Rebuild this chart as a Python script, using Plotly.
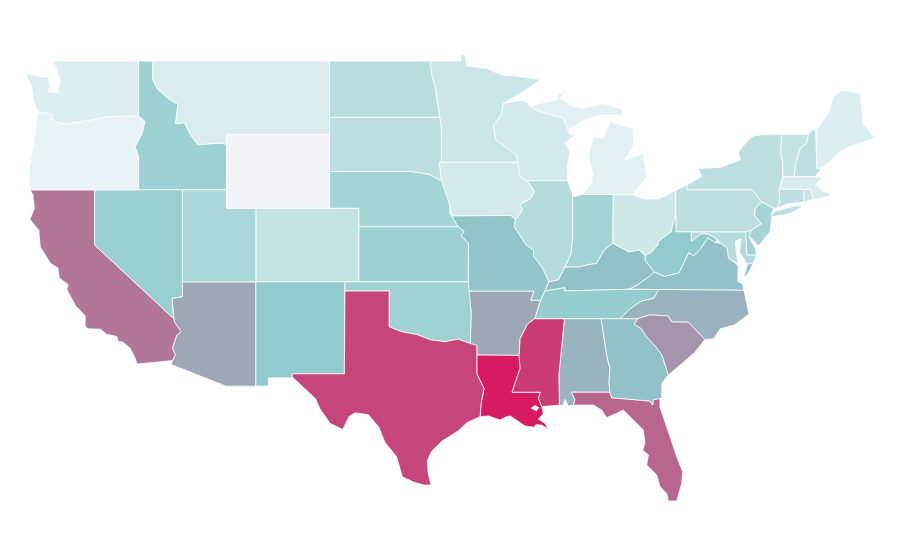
import plotly.graph_objects as go
from plotly.colors import sample_colorscale

# no topojson without network, so the state outlines are kept here as lon/lat rings
WA = [(-124.73,48.33),(-123.71,48.15),(-123.15,48.15),(-123.03,47.61),(-123.19,47.33),(-122.47,47.28),(-122.35,47.97),(-122.58,48.51),(-122.81,49.0),(-117.03,49.0),(-117.03,46.03),(-119.07,45.98),(-120.2,45.8),(-122.0,45.58),(-122.8,45.7),(-122.92,46.12),(-123.87,46.25),(-124.16,46.88),(-124.28,47.6)]
OR = [(-123.87,46.25),(-122.92,46.12),(-122.8,45.7),(-122.0,45.58),(-120.2,45.8),(-119.07,45.98),(-117.03,46.03),(-116.58,45.7),(-116.85,44.95),(-117.26,44.35),(-117.03,43.8),(-117.03,42.0),(-124.39,42.0),(-124.5,43.08),(-124.16,44.35),(-124.05,45.25)]
CA = [(-124.39,42.0),(-120.0,42.0),(-120.0,39.0),(-114.63,35.0),(-114.57,34.8),(-114.14,34.3),(-114.43,34.1),(-114.72,33.4),(-114.52,33.03),(-114.72,32.72),(-117.12,32.53),(-117.25,32.85),(-117.6,33.4),(-118.1,33.73),(-118.4,33.75),(-118.5,34.03),(-119.2,34.15),(-119.6,34.42),(-120.47,34.45),(-120.65,34.6),(-120.65,35.15),(-121.3,35.7),(-121.9,36.6),(-121.8,36.85),(-122.4,37.2),(-122.5,37.75),(-123.0,38.0),(-123.7,38.9),(-123.8,39.8),(-124.4,40.4),(-124.1,41.0),(-124.2,41.75)]
NV = [(-120.0,42.0),(-114.04,42.0),(-114.04,36.2),(-114.75,36.1),(-114.63,35.0),(-120.0,39.0)]
ID = [(-117.03,49.0),(-116.05,49.0),(-116.05,48.0),(-115.7,47.45),(-114.9,46.9),(-114.35,46.65),(-114.5,45.6),(-113.9,45.65),(-113.45,44.95),(-113.0,44.45),(-111.5,44.55),(-111.05,44.48),(-111.05,42.0),(-117.03,42.0),(-117.03,43.8),(-117.26,44.35),(-116.85,44.95),(-116.58,45.7),(-117.03,46.03)]
MT = [(-116.05,49.0),(-104.05,49.0),(-104.05,45.0),(-111.05,45.0),(-111.05,44.48),(-111.5,44.55),(-113.0,44.45),(-113.45,44.95),(-113.9,45.65),(-114.5,45.6),(-114.35,46.65),(-114.9,46.9),(-115.7,47.45),(-116.05,48.0)]
WY = [(-111.05,45.0),(-104.05,45.0),(-104.05,41.0),(-111.05,41.0)]
UT = [(-114.04,42.0),(-111.05,42.0),(-111.05,41.0),(-109.05,41.0),(-109.05,37.0),(-114.04,37.0)]
CO = [(-109.05,41.0),(-102.05,41.0),(-102.05,37.0),(-109.05,37.0)]
AZ = [(-114.04,37.0),(-109.05,37.0),(-109.05,31.33),(-111.07,31.33),(-114.8,32.5),(-114.72,32.72),(-114.52,33.03),(-114.72,33.4),(-114.43,34.1),(-114.14,34.3),(-114.57,34.8),(-114.63,35.0),(-114.75,36.1),(-114.04,36.2)]
NM = [(-109.05,37.0),(-103.0,37.0),(-103.04,32.0),(-106.62,32.0),(-106.53,31.78),(-108.2,31.78),(-108.2,31.33),(-109.05,31.33)]
ND = [(-104.05,49.0),(-97.23,49.0),(-97.1,48.2),(-96.85,47.5),(-96.75,46.9),(-96.56,45.94),(-104.05,45.94)]
SD = [(-104.05,45.94),(-96.56,45.94),(-96.45,45.3),(-96.45,43.5),(-96.6,43.5),(-96.45,42.5),(-97.3,42.85),(-98.5,43.0),(-104.05,43.0)]
NE = [(-104.05,43.0),(-98.5,43.0),(-97.3,42.85),(-96.45,42.5),(-96.1,41.7),(-95.9,41.2),(-95.85,40.7),(-95.31,40.0),(-102.05,40.0),(-102.05,41.0),(-104.05,41.0)]
KS = [(-102.05,40.0),(-95.31,40.0),(-94.9,39.75),(-95.1,39.5),(-94.61,39.1),(-94.62,37.0),(-102.05,37.0)]
OK = [(-103.0,37.0),(-94.62,37.0),(-94.43,35.4),(-94.48,33.64),(-95.3,33.88),(-96.2,33.75),(-97.2,33.85),(-98.1,34.13),(-99.2,34.3),(-100.0,34.56),(-100.0,36.5),(-103.0,36.5)]
TX = [(-106.62,32.0),(-103.04,32.0),(-103.0,36.5),(-100.0,36.5),(-100.0,34.56),(-99.2,34.3),(-98.1,34.13),(-97.2,33.85),(-96.2,33.75),(-95.3,33.88),(-94.48,33.64),(-94.04,33.55),(-94.04,32.0),(-93.55,31.2),(-93.75,30.4),(-93.82,29.67),(-94.7,29.35),(-95.3,28.9),(-96.4,28.35),(-97.1,27.8),(-97.4,27.3),(-97.35,26.6),(-97.15,25.96),(-97.6,25.95),(-98.3,26.1),(-99.1,26.4),(-99.5,27.5),(-100.3,28.3),(-100.7,29.1),(-101.4,29.77),(-102.3,29.88),(-102.7,29.7),(-103.15,28.98),(-104.0,29.3),(-104.7,30.1),(-105.0,30.65),(-106.0,31.4),(-106.53,31.78)]
MN = [(-97.23,49.0),(-95.12,49.0),(-95.12,49.33),(-94.85,49.33),(-94.73,48.73),(-93.37,48.6),(-92.35,48.24),(-91.0,48.15),(-89.75,48.0),(-90.88,47.33),(-92.24,46.7),(-92.35,46.07),(-92.92,45.52),(-92.74,44.71),(-91.33,43.9),(-91.22,43.5),(-96.45,43.5),(-96.45,45.3),(-96.56,45.94),(-96.75,46.9),(-96.85,47.5),(-97.1,48.2)]
IA = [(-96.6,43.5),(-91.22,43.5),(-91.1,42.71),(-90.65,42.5),(-90.15,41.95),(-90.35,41.55),(-91.1,41.2),(-90.95,40.9),(-91.42,40.38),(-91.73,40.61),(-95.77,40.58),(-95.9,41.2),(-96.1,41.7),(-96.45,42.5)]
MO = [(-95.77,40.58),(-91.73,40.61),(-91.42,40.38),(-91.5,40.0),(-90.7,39.0),(-90.2,38.75),(-90.2,38.4),(-89.55,37.7),(-89.15,37.0),(-89.4,36.5),(-89.7,36.0),(-90.37,36.0),(-90.15,36.5),(-94.62,36.5),(-94.62,37.0),(-94.61,39.1),(-95.1,39.5),(-94.9,39.75),(-95.31,40.0)]
AR = [(-94.62,36.5),(-90.15,36.5),(-90.37,36.0),(-89.7,36.0),(-90.1,35.0),(-90.6,34.7),(-91.1,33.9),(-91.17,33.0),(-94.04,33.02),(-94.04,33.55),(-94.48,33.64),(-94.43,35.4)]
LA = [(-94.04,33.02),(-91.17,33.0),(-91.1,32.3),(-91.65,31.0),(-89.73,31.0),(-89.85,30.65),(-89.63,30.22),(-89.52,29.85),(-89.86,29.53),(-89.41,29.31),(-89.18,28.98),(-89.6,29.2),(-90.0,29.25),(-90.2,29.1),(-90.77,29.17),(-91.44,29.53),(-91.78,29.71),(-92.12,29.64),(-92.46,29.49),(-93.26,29.71),(-93.82,29.67),(-93.75,30.4),(-93.55,31.2),(-94.04,32.0)]
MS = [(-90.1,35.0),(-88.2,35.0),(-88.1,34.9),(-88.47,31.9),(-88.43,30.3),(-89.52,30.22),(-89.63,30.22),(-89.85,30.65),(-89.73,31.0),(-91.65,31.0),(-91.1,32.3),(-91.17,33.0),(-91.1,33.9),(-90.6,34.7)]
AL = [(-88.2,35.0),(-85.6,35.0),(-85.18,32.87),(-85.0,32.3),(-85.06,31.55),(-85.0,31.0),(-87.6,31.0),(-87.37,30.58),(-87.48,30.3),(-87.82,30.25),(-88.05,30.61),(-88.2,30.25),(-88.43,30.3),(-88.47,31.9),(-88.1,34.9)]
GA = [(-85.6,35.0),(-83.1,35.0),(-83.35,34.7),(-82.9,34.48),(-82.5,34.0),(-81.9,33.5),(-81.45,33.0),(-81.1,32.1),(-81.03,31.94),(-81.48,31.48),(-81.48,30.67),(-82.05,30.6),(-82.1,30.3),(-82.27,30.52),(-84.88,30.7),(-85.0,31.0),(-85.06,31.55),(-85.0,32.3),(-85.18,32.87)]
FL = [(-87.6,31.0),(-85.0,31.0),(-84.88,30.7),(-82.27,30.52),(-82.1,30.3),(-82.05,30.6),(-81.6,30.67),(-81.6,30.2),(-80.92,28.59),(-80.46,27.5),(-80.06,26.68),(-80.12,26.05),(-80.46,25.09),(-81.03,25.09),(-81.14,25.5),(-81.6,25.87),(-81.82,26.5),(-82.5,27.04),(-82.39,27.59),(-82.77,27.86),(-82.62,28.22),(-82.73,28.95),(-83.41,29.49),(-84.09,30.03),(-84.54,29.85),(-85.22,29.62),(-85.56,30.03),(-86.12,30.3),(-87.48,30.3),(-87.37,30.58)]
SC = [(-83.35,34.7),(-83.1,35.0),(-82.3,35.2),(-81.05,35.15),(-80.8,34.82),(-79.67,34.8),(-78.55,33.86),(-79.2,33.2),(-79.9,32.7),(-81.03,31.94),(-81.1,32.1),(-81.45,33.0),(-81.9,33.5),(-82.5,34.0),(-82.9,34.48)]
NC = [(-84.32,35.0),(-83.1,35.0),(-82.3,35.2),(-81.05,35.15),(-80.8,34.82),(-79.67,34.8),(-78.55,33.86),(-77.95,33.9),(-77.5,34.45),(-76.55,34.65),(-75.55,35.25),(-75.9,36.55),(-81.68,36.59),(-82.0,36.12),(-82.9,35.95),(-83.6,35.55)]
TN = [(-90.1,35.0),(-88.2,35.0),(-85.6,35.0),(-84.32,35.0),(-83.6,35.55),(-82.9,35.95),(-82.0,36.12),(-81.68,36.59),(-83.67,36.6),(-88.07,36.5),(-88.07,36.68),(-89.42,36.5),(-89.7,36.0)]
KY = [(-89.42,36.5),(-88.07,36.68),(-88.07,36.5),(-83.67,36.6),(-83.1,36.85),(-82.3,37.3),(-81.97,37.54),(-82.6,38.17),(-82.6,38.42),(-83.0,38.73),(-83.7,38.63),(-84.25,38.85),(-84.8,39.1),(-85.4,38.73),(-85.9,38.0),(-86.5,37.93),(-87.1,37.8),(-88.05,37.8),(-88.5,37.1),(-89.15,37.0)]
VA = [(-83.67,36.6),(-81.68,36.59),(-75.9,36.55),(-76.0,36.9),(-76.3,37.0),(-76.3,37.9),(-76.95,38.3),(-77.05,38.85),(-77.5,39.1),(-77.83,39.13),(-78.35,39.4),(-78.87,38.77),(-79.3,38.42),(-79.65,38.59),(-80.3,37.5),(-81.3,37.3),(-81.97,37.54),(-82.3,37.3),(-83.1,36.85)]
VA_SHORE = [(-75.95,37.15),(-75.65,37.95),(-75.24,38.03),(-75.6,37.5)]
WV = [(-82.6,38.17),(-81.97,37.54),(-81.3,37.3),(-80.3,37.5),(-79.65,38.59),(-79.3,38.42),(-78.87,38.77),(-78.35,39.4),(-77.83,39.13),(-77.72,39.32),(-78.4,39.62),(-78.8,39.6),(-79.48,39.2),(-79.48,39.72),(-80.52,39.72),(-80.52,40.64),(-80.85,39.7),(-81.7,39.2),(-81.75,39.0),(-82.2,38.6),(-82.6,38.42)]
MD = [(-79.48,39.72),(-75.79,39.72),(-75.7,38.46),(-75.05,38.45),(-75.24,38.03),(-75.65,37.95),(-76.2,38.6),(-76.1,39.35),(-76.5,39.2),(-76.4,38.4),(-76.3,37.95),(-76.95,38.3),(-77.05,38.85),(-77.5,39.1),(-77.72,39.32),(-78.4,39.62),(-78.8,39.6),(-79.48,39.2)]
DE = [(-75.79,39.72),(-75.42,39.8),(-75.55,39.45),(-75.1,38.8),(-75.05,38.45),(-75.7,38.46)]
PA = [(-80.52,41.98),(-79.76,42.27),(-79.76,42.0),(-75.35,42.0),(-74.7,41.36),(-75.13,40.98),(-75.2,40.65),(-74.72,40.15),(-75.42,39.8),(-75.79,39.72),(-80.52,39.72)]
NY = [(-79.76,42.27),(-79.76,42.0),(-75.35,42.0),(-74.7,41.36),(-73.9,41.0),(-73.65,41.0),(-73.5,41.3),(-73.49,42.05),(-73.26,42.72),(-73.25,43.55),(-73.4,44.0),(-73.33,45.01),(-74.7,45.0),(-75.25,44.93),(-75.7,44.62),(-76.27,44.07),(-76.16,43.62),(-77.52,43.22),(-78.99,43.17),(-78.76,42.72)]
LONG_ISLAND = [(-74.03,40.6),(-73.75,40.85),(-72.3,41.15),(-71.9,41.07),(-72.8,40.7),(-73.9,40.55)]
NJ = [(-74.7,41.36),(-73.9,41.0),(-74.0,40.7),(-74.1,39.75),(-74.9,38.95),(-75.55,39.5),(-75.42,39.8),(-74.72,40.15),(-75.2,40.65),(-75.13,40.98)]
CT = [(-73.49,42.05),(-71.8,42.02),(-71.85,41.32),(-72.9,41.25),(-73.65,41.0),(-73.5,41.3)]
RI = [(-71.8,42.02),(-71.4,42.02),(-71.18,41.5),(-71.85,41.32)]
MA = [(-73.49,42.05),(-73.26,42.72),(-71.06,42.72),(-70.75,42.7),(-70.6,42.65),(-71.0,42.3),(-70.6,41.95),(-70.05,41.8),(-70.2,42.07),(-69.95,41.7),(-70.65,41.55),(-71.18,41.5),(-71.4,42.02)]
VT = [(-73.33,45.01),(-71.52,45.01),(-71.65,44.5),(-72.08,44.26),(-72.4,43.4),(-72.49,42.72),(-73.26,42.72),(-73.25,43.55),(-73.4,44.0)]
NH = [(-71.52,45.01),(-71.29,45.25),(-71.02,45.25),(-70.95,43.17),(-70.61,43.17),(-71.06,42.72),(-72.49,42.72),(-72.4,43.4),(-72.08,44.26),(-71.65,44.5)]
ME = [(-71.02,45.25),(-70.16,46.16),(-69.82,47.06),(-69.25,47.43),(-68.0,47.25),(-67.78,45.61),(-66.99,44.8),(-68.69,44.35),(-69.37,44.07),(-70.61,43.17),(-70.95,43.17)]
MI_LOWER = [(-84.77,41.75),(-83.41,41.72),(-83.41,41.8),(-82.5,42.7),(-82.73,43.98),(-83.98,43.62),(-83.41,44.35),(-83.41,45.34),(-85.0,45.7),(-85.45,44.8),(-86.13,44.89),(-86.47,43.8),(-86.17,42.9),(-86.24,42.35),(-86.85,41.76)]
MI_UPPER = [(-90.4,46.57),(-90.09,46.34),(-88.16,45.89),(-87.83,45.25),(-86.81,45.79),(-85.67,46.07),(-84.2,46.07),(-84.09,46.37),(-85.45,46.7),(-86.81,46.43),(-87.49,46.52),(-88.39,46.97),(-88.0,47.42),(-88.5,47.2),(-88.6,46.9),(-90.09,46.61)]
WI = [(-92.24,46.7),(-90.88,46.88),(-90.4,46.57),(-90.09,46.34),(-88.16,45.89),(-87.83,45.25),(-87.71,44.98),(-87.26,45.07),(-88.05,44.53),(-87.71,44.07),(-87.87,43.35),(-87.87,42.5),(-90.65,42.5),(-91.1,42.71),(-91.22,43.5),(-91.33,43.9),(-92.74,44.71),(-92.92,45.52),(-92.35,46.07)]
IL = [(-90.65,42.5),(-87.87,42.5),(-87.53,41.73),(-87.53,39.35),(-87.65,38.5),(-88.05,37.8),(-88.5,37.1),(-89.15,37.0),(-89.55,37.7),(-90.2,38.4),(-90.2,38.75),(-90.7,39.0),(-91.5,40.0),(-91.42,40.38),(-90.95,40.9),(-91.1,41.2),(-90.35,41.55),(-90.15,41.95)]
IN = [(-87.53,41.73),(-87.37,41.63),(-86.85,41.76),(-84.77,41.75),(-84.8,39.1),(-85.4,38.73),(-85.9,38.0),(-86.5,37.93),(-87.1,37.8),(-88.05,37.8),(-87.65,38.5),(-87.53,39.35)]
OH = [(-84.77,41.75),(-83.41,41.72),(-82.7,41.5),(-81.7,41.5),(-80.52,41.98),(-80.52,40.64),(-80.85,39.7),(-81.7,39.2),(-81.75,39.0),(-82.2,38.6),(-82.6,38.42),(-83.0,38.73),(-83.7,38.63),(-84.25,38.85),(-84.8,39.1)]
LAKE_PONTCHARTRAIN = [(-90.38,30.13),(-90.09,30.3),(-89.8,30.15),(-90.0,29.97)]

outlines = {
    'AL': [AL], 'AZ': [AZ], 'AR': [AR], 'CA': [CA], 'CO': [CO], 'CT': [CT], 'DE': [DE], 'FL': [FL],
    'GA': [GA], 'ID': [ID], 'IL': [IL], 'IN': [IN], 'IA': [IA], 'KS': [KS], 'KY': [KY], 'LA': [LA],
    'ME': [ME], 'MD': [MD], 'MA': [MA], 'MI': [MI_LOWER, MI_UPPER], 'MN': [MN], 'MS': [MS], 'MO': [MO],
    'MT': [MT], 'NE': [NE], 'NV': [NV], 'NH': [NH], 'NJ': [NJ], 'NM': [NM], 'NY': [NY, LONG_ISLAND],
    'NC': [NC], 'ND': [ND], 'OH': [OH], 'OK': [OK], 'OR': [OR], 'PA': [PA], 'RI': [RI], 'SC': [SC],
    'SD': [SD], 'TN': [TN], 'TX': [TX], 'UT': [UT], 'VT': [VT], 'VA': [VA, VA_SHORE], 'WA': [WA], 'WV': [WV],
    'WI': [WI], 'WY': [WY],
}

states = ['AL','AZ','AR','CA','CO','CT','DE','FL','GA','ID','IL','IN','IA','KS','KY','LA','ME','MD','MA','MI','MN','MS','MO','MT','NE','NV','NH','NJ','NM','NY','NC','ND','OH','OK','OR','PA','RI','SC','SD','TN','TX','UT','VT','VA','WA','WV','WI','WY']
values = [43,48,48,66,17,19,28,72,38,30,22,28,11,30,38,100,8,22,9,6,14,88,37,9,27,31,19,27,34,19,44,21,13,29,4,19,15,55,19,33,84,26,17,38,8,34,11,0]

colorscale = [[0, '#f3f4f7'], [0.04, '#e8f3f5'], [0.35, '#8fcacc'], [1, '#d81b60']]


def ring_xy(rings):
    xs, ys = [], []
    for r in rings:
        xs += [p[0] for p in r] + [r[0][0], None]
        ys += [p[1] for p in r] + [r[0][1], None]
    return xs, ys


fig = go.Figure()
for code, value in zip(states, values):
    xs, ys = ring_xy(outlines[code])
    color = sample_colorscale(colorscale, value / 100)[0]
    fig.add_trace(go.Scatter(
        x=xs, y=ys, name=code, mode='lines', fill='toself', fillcolor=color,
        line=dict(color='white', width=0.8), text=f"{code}: {value}", hoverinfo='text'
    ))

xs, ys = ring_xy([LAKE_PONTCHARTRAIN])
fig.add_trace(go.Scatter(x=xs, y=ys, mode='lines', fill='toself', fillcolor='white',
                         line=dict(color='white', width=0), hoverinfo='skip'))

# the page body adds 8px round the figure, so the ranges are moved to make up for it
fig.update_xaxes(range=[-125.89, -64.75], visible=False)
fig.update_yaxes(range=[21.445, 51.885], visible=False)
fig.update_layout(
    width=900,
    height=560,
    showlegend=False,
    paper_bgcolor='white',
    plot_bgcolor='white',
    margin=dict(t=0, b=0, l=0, r=0)
)

fig.write_html("out.html")
